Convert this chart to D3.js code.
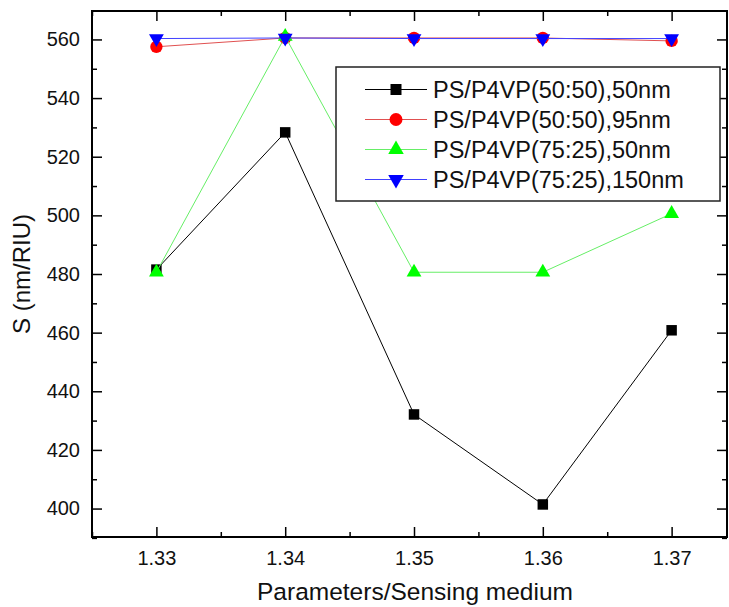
<!DOCTYPE html>
<html><head><meta charset="utf-8">
<script src="https://cdn.jsdelivr.net/npm/d3@7"></script>
<style>body{margin:0;background:#fff}svg{display:block}text{font-family:Arial,"Liberation Sans",sans-serif}</style>
</head><body><svg id="c" width="729" height="607"></svg>
<script>
const categories = [1.33, 1.34, 1.35, 1.36, 1.37];
const seriesNames = ["PS/P4VP(50:50),50nm","PS/P4VP(50:50),95nm","PS/P4VP(75:25),50nm","PS/P4VP(75:25),150nm"];
const s1 = [481.5, 528.3, 432.1, 401.4, 460.8];
const s2 = [557.5, 560.5, 560.5, 560.5, 559.5];
const s3 = [480.6, 561.0, 480.6, 480.6, 500.6];
const s4 = [560.3, 560.5, 560.3, 560.3, 560.3];
const yTicks = [400, 420, 440, 460, 480, 500, 520, 540, 560];
const xTicks = [1.33, 1.34, 1.35, 1.36, 1.37];
const seriesValues = [s1, s2, s3, s4];
const colors = ["#000000", "#ff0000", "#00ff00", "#0000ff"];
const lineColors = ["#000000", "#e05050", "#66ee66", "#4040ff"];
const shapes = ["square", "circle", "triangle", "triangleDown"];

const svg = d3.select("#c");
const L = 92, R = 727, T = 11, B = 537;
const x = d3.scaleLinear().domain([1.325, 1.3743]).range([L, R]);
const y = d3.scaleLinear().domain([390.3, 569.7]).range([B, T]);

function sym(shape, size) {
  const m = {square: d3.symbolSquare, circle: d3.symbolCircle, triangle: d3.symbolTriangle, triangleDown: d3.symbolTriangle};
  return d3.symbol().type(m[shape]).size(size)();
}
const sizes = {square: 110, circle: 120, triangle: 95, triangleDown: 95};

// axes
const minorX = d3.range(1.325, 1.3745, 0.005);
const minorY = d3.range(390, 570, 10);
const gB = svg.append("g").attr("transform", `translate(0,${B})`)
  .call(d3.axisBottom(x).tickValues(xTicks).tickSizeInner(-10).tickSizeOuter(0).tickPadding(14).tickFormat(d3.format(".2f")));
const gBm = svg.append("g").attr("transform", `translate(0,${B})`)
  .call(d3.axisBottom(x).tickValues(minorX.filter(v => !xTicks.some(t => Math.abs(t - v) < 1e-6))).tickSize(-5).tickFormat(""));
const gT = svg.append("g").attr("transform", `translate(0,${T})`)
  .call(d3.axisTop(x).tickValues(xTicks).tickSizeInner(-10).tickSizeOuter(0).tickFormat(""));
const gTm = svg.append("g").attr("transform", `translate(0,${T})`)
  .call(d3.axisTop(x).tickValues(minorX.filter(v => !xTicks.some(t => Math.abs(t - v) < 1e-6))).tickSize(-5).tickFormat(""));
const gL = svg.append("g").attr("transform", `translate(${L},0)`)
  .call(d3.axisLeft(y).tickValues(yTicks).tickSizeInner(-10).tickSizeOuter(0).tickPadding(12));
const gLm = svg.append("g").attr("transform", `translate(${L},0)`)
  .call(d3.axisLeft(y).tickValues(minorY.filter(v => v % 20 !== 0)).tickSize(-5).tickFormat(""));
const gR = svg.append("g").attr("transform", `translate(${R},0)`)
  .call(d3.axisRight(y).tickValues(yTicks).tickSizeInner(-10).tickSizeOuter(0).tickFormat(""));
const gRm = svg.append("g").attr("transform", `translate(${R},0)`)
  .call(d3.axisRight(y).tickValues(minorY.filter(v => v % 20 !== 0)).tickSize(-5).tickFormat(""));
[gB, gBm, gT, gTm, gL, gLm, gR, gRm].forEach(g => {
  g.select(".domain").remove();
  g.selectAll("line").attr("stroke", "#000").attr("stroke-width", 1.5);
  g.selectAll("text").attr("font-size", 20).attr("fill", "#111");
});
svg.append("rect").attr("x", L).attr("y", T).attr("width", R - L).attr("height", B - T)
  .attr("fill", "none").attr("stroke", "#000").attr("stroke-width", 2);

// series
const line = d3.line().x((d, i) => x(categories[i])).y(d => y(d));
seriesValues.forEach((vals, k) => {
  const g = svg.append("g");
  g.append("path").attr("d", line(vals)).attr("fill", "none").attr("stroke", lineColors[k]).attr("stroke-width", 1);
  g.selectAll("path.m").data(vals).enter().append("path").attr("class", "m")
    .attr("d", sym(shapes[k], sizes[shapes[k]]))
    .attr("transform", (d, i) => `translate(${x(categories[i])},${y(d)})` + (shapes[k] === "triangleDown" ? " rotate(180)" : ""))
    .attr("fill", colors[k]);
});

// legend
const lg = svg.append("g");
lg.append("rect").attr("x", 336).attr("y", 67).attr("width", 384).attr("height", 134)
  .attr("fill", "#fff").attr("stroke", "#222").attr("stroke-width", 1.5);
seriesNames.forEach((n, k) => {
  const cy = 89.5 + k * 30;
  lg.append("line").attr("x1", 365).attr("x2", 427).attr("y1", cy).attr("y2", cy).attr("stroke", lineColors[k]).attr("stroke-width", 1);
  lg.append("path").attr("d", sym(shapes[k], sizes[shapes[k]] * 1.1))
    .attr("transform", `translate(396,${cy})` + (shapes[k] === "triangleDown" ? " rotate(180)" : ""))
    .attr("fill", colors[k]);
  lg.append("text").attr("x", 433).attr("y", cy).attr("dy", "0.36em").attr("font-size", 23.5).attr("fill", "#111").text(n);
});

// axis titles
svg.append("text").attr("x", 415).attr("y", 600).attr("text-anchor", "middle").attr("font-size", 24.5).attr("fill", "#111").text("Parameters/Sensing medium");
svg.append("text").attr("transform", "translate(30,274) rotate(-90)").attr("text-anchor", "middle").attr("font-size", 24).attr("fill", "#111").text("S (nm/RIU)");
</script></body></html>
